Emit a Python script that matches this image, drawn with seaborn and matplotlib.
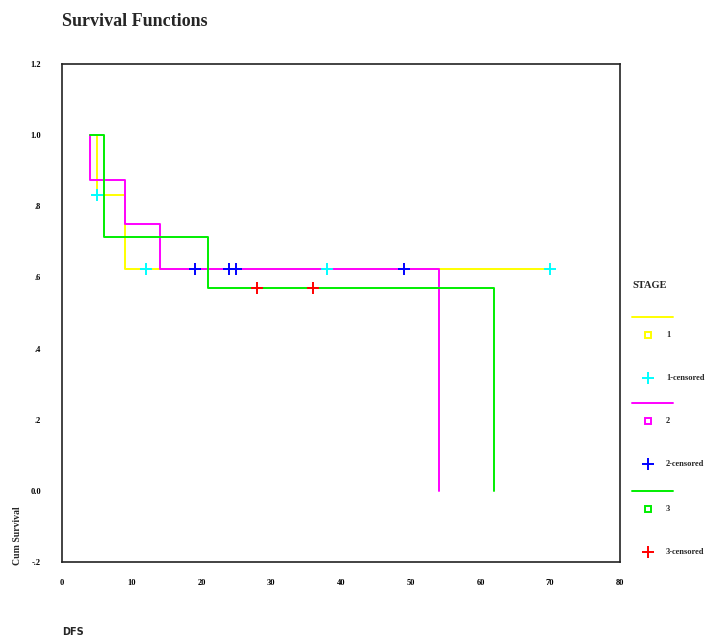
import matplotlib
matplotlib.use('Agg')
import matplotlib.pyplot as plt
from matplotlib.lines import Line2D
import seaborn as sns

# Step curves (time, cumulative survival)
stage1_t = [5, 5, 9, 70]
stage1_s = [1.0, 0.833, 0.625, 0.625]
stage2_t = [4, 4, 9, 14, 54, 54]
stage2_s = [1.0, 0.875, 0.75, 0.625, 0.625, 0.0]
stage3_t = [4, 6, 21, 62, 62]
stage3_s = [1.0, 0.714, 0.571, 0.571, 0.0]

# Censored observations
cens1_t = [5, 12, 38, 70]
cens1_s = [0.833, 0.625, 0.625, 0.625]
cens2_t = [19, 24, 25, 49]
cens2_s = [0.625, 0.625, 0.625, 0.625]
cens3_t = [28, 36]
cens3_s = [0.571, 0.571]

stages = ['1', '2', '3']
line_colors = ['#ffff00', '#ff00ff', '#00ee00']
cens_colors = ['#00ffff', '#0000ff', '#ff0000']
x_ticks = [0, 10, 20, 30, 40, 50, 60, 70, 80]
y_ticks = [-0.2, 0.0, 0.2, 0.4, 0.6, 0.8, 1.0, 1.2]
y_tick_labels = ['-.2', '0.0', '.2', '.4', '.6', '.8', '1.0', '1.2']

sns.set_style('white')
plt.rcParams['font.family'] = ['Liberation Serif', 'DejaVu Serif']

fig = plt.figure(figsize=(7.14, 6.39), dpi=100)
ax = fig.add_axes([62 / 714, 1 - 562 / 639, 558 / 714, 498 / 639])

curves = [(stage1_t, stage1_s), (stage2_t, stage2_s), (stage3_t, stage3_s)]
for (t, s), c in zip(curves, line_colors):
    sns.lineplot(x=t, y=s, estimator=None, sort=False, drawstyle='steps-post',
                 color=c, linewidth=1.4, ax=ax)

censored = [(cens1_t, cens1_s), (cens2_t, cens2_s), (cens3_t, cens3_s)]
for (t, s), c in zip(censored, cens_colors):
    sns.scatterplot(x=t, y=s, marker='+', s=70, linewidth=1.4, color=c,
                    ax=ax, zorder=5)

ax.set_xlim(0, 80)
ax.set_ylim(-0.2, 1.2)
ax.set_xticks(x_ticks)
ax.set_xticklabels([str(v) for v in x_ticks], fontweight='bold')
ax.set_yticks(y_ticks)
ax.set_yticklabels(y_tick_labels, fontweight='bold')
ax.tick_params(axis='both', direction='out', length=3, width=1, labelsize=6,
               colors='black')
ax.tick_params(axis='y', pad=12)
ax.tick_params(axis='x', pad=9)
for sp in ax.spines.values():
    sp.set_color('#222222')
    sp.set_linewidth(1.2)
ax.set_xlabel('')
ax.set_ylabel('')

fig.text(62 / 714, 1 - 22 / 639, 'Survival Functions', fontsize=13,
         fontweight='bold', ha='left', va='center')
fig.text(62 / 714, 1 - 632 / 639, 'DFS', fontsize=7, fontweight='bold',
         family=['DejaVu Sans'], ha='left', va='center')
fig.text(18 / 714, 1 - 565 / 639, 'Cum Survival', fontsize=7, rotation=90,
         fontweight='bold', ha='center', va='bottom')

# Legend built by hand, SPSS style
fig.text(632 / 714, 1 - 285 / 639, 'STAGE', fontsize=7.5, fontweight='bold',
         ha='left', va='center')
group_top = [317, 403, 491]
for i, lab in enumerate(stages):
    y0 = group_top[i]
    fig.add_artist(Line2D([632 / 714, 673 / 714], [1 - y0 / 639] * 2,
                          color=line_colors[i], lw=1.4,
                          transform=fig.transFigure))
    fig.add_artist(Line2D([648 / 714], [1 - (y0 + 18) / 639], marker='s',
                          markersize=5, markerfacecolor='none',
                          markeredgecolor=line_colors[i], markeredgewidth=1.4,
                          transform=fig.transFigure))
    fig.text(666 / 714, 1 - (y0 + 18) / 639, lab, fontsize=6,
             fontweight='bold', ha='left', va='center')
    fig.add_artist(Line2D([648 / 714], [1 - (y0 + 61) / 639], marker='+',
                          markersize=8, markeredgewidth=1.4,
                          color=cens_colors[i], transform=fig.transFigure))
    fig.text(666 / 714, 1 - (y0 + 61) / 639, lab + '-censored', fontsize=6,
             fontweight='bold', ha='left', va='center')

fig.savefig('out.png', dpi=100)
